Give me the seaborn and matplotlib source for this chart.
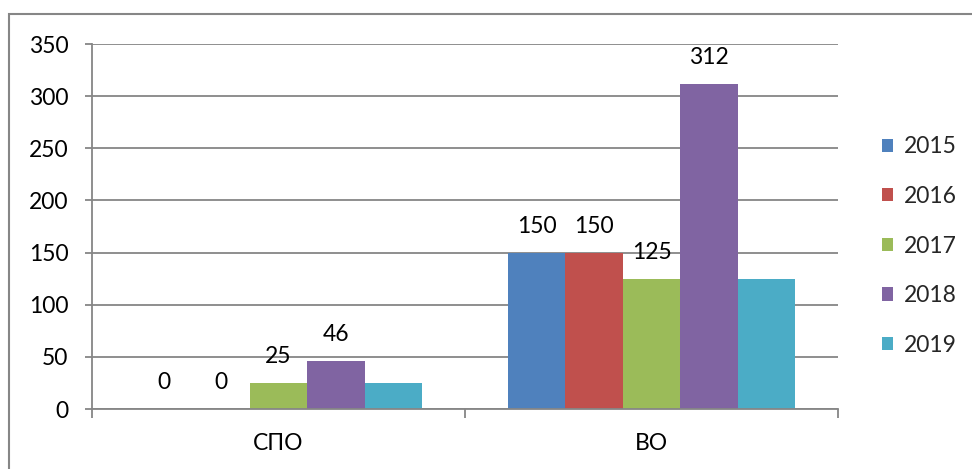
import matplotlib
matplotlib.use("Agg")
import matplotlib.pyplot as plt
import matplotlib.patches as mpatches
import seaborn as sns
import pandas as pd

categories = ["СПО", "ВО"]
years = ["2015", "2016", "2017", "2018", "2019"]
values_2015 = [0, 150]
values_2016 = [0, 150]
values_2017 = [25, 125]
values_2018 = [46, 312]
values_2019 = [25, 125]
labeled_years = ["2015", "2016", "2017", "2018"]
y_ticks = [0, 50, 100, 150, 200, 250, 300, 350]
colors = ["#4F81BD", "#C0504D", "#9BBB59", "#8064A2", "#4BACC6"]

series = [values_2015, values_2016, values_2017, values_2018, values_2019]
rows = []
for yr, vals in zip(years, series):
    for c, v in zip(categories, vals):
        rows.append({"cat": c, "year": yr, "val": v})
df = pd.DataFrame(rows)

sns.set_theme(style="white")
plt.rcParams["font.family"] = ["Lato", "DejaVu Sans"]
FS = 16.5
GRAY = "#868686"

W, H = 972, 469
fig = plt.figure(figsize=(W / 100, H / 100), dpi=100)
ax = fig.add_axes([92 / W, 1 - 409 / H, (838 - 92) / W, (409 - 44) / H])

sns.barplot(data=df, x="cat", y="val", hue="year", palette=colors,
            width=0.77, saturation=1, linewidth=0, ax=ax, legend=False,
            order=categories, hue_order=years)

ax.set_ylim(0, 350)
ax.set_xlim(-0.5, 1.5)
ax.set_yticks(y_ticks)
ax.set_yticklabels([str(t) for t in y_ticks], fontsize=FS, color="black")
ax.set_xlabel("")
ax.set_ylabel("")
ax.grid(axis="y", color=GRAY, lw=1.3)
ax.set_axisbelow(True)
for s in ["top", "right"]:
    ax.spines[s].set_visible(False)
for s in ["left", "bottom"]:
    ax.spines[s].set_color(GRAY)
    ax.spines[s].set_linewidth(1.3)

ax.tick_params(axis="y", which="major", length=5, width=1.3, color=GRAY,
               direction="out", left=True, pad=12)
ax.set_xticks([-0.5, 0.5, 1.5], minor=True)
ax.tick_params(axis="x", which="minor", length=6.5, width=1.3, color=GRAY,
               direction="out", bottom=True)
ax.tick_params(axis="x", which="major", length=0, pad=17, labelsize=FS,
               labelcolor="black")

for yr, cont in zip(years, ax.containers):
    if yr not in labeled_years:
        continue
    for bar in cont:
        h = bar.get_height()
        ax.annotate(f"{h:.0f}", (bar.get_x() + bar.get_width() / 2, h),
                    xytext=(0, 19), textcoords="offset points",
                    ha="center", va="center", fontsize=FS, color="black",
                    annotation_clip=False)

handles = [mpatches.Patch(facecolor=c, edgecolor="none") for c in colors]
fig.legend(handles, years, loc="center left",
           bbox_to_anchor=(882 / W, 1 - 246 / H), frameon=False,
           fontsize=FS, handlelength=0.5, handleheight=0.5,
           handletextpad=0.45, labelspacing=1.25, borderpad=0,
           borderaxespad=0)

border = mpatches.Rectangle((9 / W, -0.1), 1.5, (H - 14) / H + 0.1,
                            transform=fig.transFigure, fill=False,
                            edgecolor=GRAY, lw=1.5)
fig.patches.append(border)

fig.savefig("out.png", dpi=100)
